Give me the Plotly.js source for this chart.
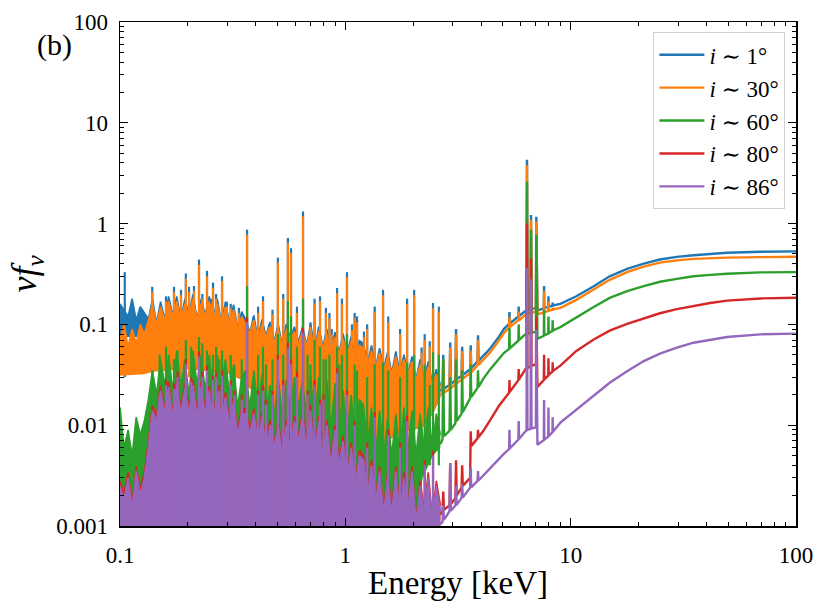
<!DOCTYPE html>
<html>
<head>
<meta charset="utf-8">
<script src="https://cdn.plot.ly/plotly-3.0.1.min.js"></script>
<style>html,body{margin:0;padding:0;background:#fff;}#chart{width:831px;height:616px;}</style>
</head>
<body>
<div id="chart"></div>
<script>
// ---------- dense line-forest band (0.1 - 2.64 keV) ----------
const energyForest = [0.1000,0.1042,0.1086,0.1132,0.1180,0.1230,0.1282,0.1337,0.1393,0.1452,
0.1514,0.1578,0.1644,0.1714,0.1786,0.1862,0.1941,0.2023,0.2109,0.2198,
0.2291,0.2388,0.2489,0.2594,0.2704,0.2818,0.2938,0.3062,0.3192,0.3327,
0.3467,0.3614,0.3767,0.3926,0.4093,0.4266,0.4446,0.4634,0.4831,0.5035,
0.5248,0.5470,0.5702,0.5943,0.6194,0.6457,0.6730,0.7015,0.7311,0.7621,
0.7943,0.8279,0.8630,0.8995,0.9376,0.9772,1.0186,1.0617,1.1066,1.1535,
1.2023,1.2531,1.3062,1.3614,1.4191,1.4791,1.5417,1.6069,1.6749,1.7458,
1.8197,1.8967,1.9770,2.0606,2.1478,2.2387,2.3335,2.4322,2.5351,2.6424];

const bandI1 = [0.160,0.140,0.120,0.180,0.110,0.150,0.130,
0.113,0.179,0.103,0.168,0.113,0.19,0.124,0.19,0.113,0.179,0.124,0.2,0.113,0.179,0.124,0.19,0.113,0.179,0.103,0.168,0.103,0.157,0.093,0.134,
0.112,0.082,0.123,0.072,0.112,0.077,0.106,0.067,0.101,0.062,0.101,0.072,0.095,0.067,
0.095,0.062,0.101,0.057,0.095,0.06,0.09,0.054,0.084,0.052,0.081,0.052,0.076,0.046,0.069,
0.065,0.041,0.062,0.037,0.058,0.036,0.054,0.033,0.054,0.033,0.05,0.033,0.048,0.029,0.045,0.028,0.043,0.026,0.036,0.025];

const bandI30 = [0.070,0.100,0.060,0.090,0.065,0.100,0.080,
0.11,0.16,0.10,0.15,0.11,0.17,0.12,0.17,0.11,0.16,0.12,0.18,0.11,0.16,0.12,0.17,0.11,0.16,0.10,0.15,0.10,0.14,0.09,0.12,
0.10,0.08,0.11,0.07,0.10,0.075,0.095,0.065,0.09,0.06,0.09,0.07,0.085,0.065,
0.085,0.06,0.09,0.055,0.085,0.058,0.08,0.052,0.075,0.05,0.072,0.05,0.068,0.045,0.062,
0.058,0.04,0.055,0.036,0.052,0.035,0.048,0.032,0.048,0.032,0.045,0.032,0.043,0.028,0.04,0.027,0.038,0.025,0.032,0.024];

const bandI60 = [0.015,0.006,0.009,0.005,0.012,0.008,0.011,
0.018,0.035,0.02,0.045,0.025,0.05,0.022,0.055,0.025,0.045,0.02,0.055,0.025,0.05,0.022,0.05,0.02,0.05,0.025,0.045,0.02,0.04,0.015,0.03,
0.035,0.015,0.035,0.015,0.032,0.014,0.025,0.012,0.03,0.012,0.028,0.015,0.03,0.015,
0.028,0.012,0.032,0.01,0.03,0.01,0.028,0.009,0.026,0.008,0.022,0.008,0.02,0.007,0.018,
0.016,0.006,0.015,0.005,0.014,0.005,0.012,0.005,0.013,0.005,0.015,0.006,0.014,0.005,0.013,0.006,0.015,0.006,0.013,0.008];

const bandI80 = [0.0028,0.0021,0.0034,0.0017,0.0039,0.0023,0.0034,
0.0068,0.0157,0.0123,0.0246,0.0146,0.0269,0.0134,0.028,0.0146,0.0258,0.0146,0.028,0.0134,0.0269,0.0146,0.0246,0.0123,0.0235,0.0123,0.0213,0.0112,0.019,0.009,0.0146,
0.0146,0.009,0.0146,0.0078,0.0134,0.0067,0.0112,0.0067,0.0112,0.0056,0.0112,0.0067,0.0123,0.0078,
0.0134,0.0067,0.0146,0.0056,0.0123,0.0056,0.0112,0.0045,0.01,0.0045,0.0078,0.0034,0.0067,0.0028,0.0056,
0.005,0.0022,0.0045,0.0019,0.0039,0.0015,0.0034,0.0015,0.0039,0.0015,0.0034,0.0017,0.0039,0.0012,0.0028,0.0015,0.0034,0.0012,0.0028,0.0016];

const bandI86 = [0.0025,0.0018,0.0030,0.0015,0.0035,0.0020,0.0030,
0.006,0.014,0.011,0.022,0.013,0.024,0.012,0.025,0.013,0.023,0.013,0.025,0.012,0.024,0.013,0.022,0.011,0.021,0.011,0.019,0.01,0.017,0.008,0.013,
0.013,0.008,0.013,0.007,0.012,0.006,0.01,0.006,0.01,0.005,0.01,0.006,0.011,0.007,
0.012,0.006,0.013,0.005,0.011,0.005,0.01,0.004,0.009,0.004,0.007,0.003,0.006,0.0025,0.005,
0.0045,0.002,0.004,0.0017,0.0035,0.0013,0.003,0.0013,0.0035,0.0013,0.003,0.0015,0.0035,0.0011,0.0025,0.0013,0.003,0.0011,0.0025,0.0014];

// lower edges of the dense bands
const floorE_I1 = [0.1,0.128,0.134,0.2,0.3,0.35,0.4,0.45,0.5,0.6,0.8,1.0,1.2,1.45,1.8,2.2,2.45,2.6424];
const floorI1   = [0.075,0.075,0.036,0.036,0.033,0.028,0.02,0.012,0.008,0.009,0.0085,0.0065,0.0055,0.0065,0.0085,0.0095,0.013,0.019];
const floorE_I30 = [0.1,0.128,0.14,0.2,0.3,0.35,0.4,0.45,0.5,0.6,0.8,1.0,1.2,1.45,1.8,2.2,2.45,2.6424];
const floorI30   = [0.031,0.032,0.034,0.036,0.033,0.028,0.02,0.012,0.008,0.009,0.0085,0.0065,0.0055,0.0065,0.0085,0.0095,0.013,0.019];
const floorE_I60 = [0.1,2.0,2.2,2.45,2.6424];
const floorI60   = [0.0003,0.0003,0.003,0.005,0.006];
const floorE_I80 = [0.1,2.6424];
const floorI80   = [0.0003,0.0003];
const floorE_I86 = [0.1,2.6424];
const floorI86   = [0.0003,0.0003];

// ---------- emission lines in the forest (null = not visible) ----------
const lineE = [0.105,0.139,0.150,0.160,0.1736,0.180,0.1865,0.196,0.2025,0.207,
0.213,0.2242,0.232,0.2433,0.253,0.2587,0.267,0.276,0.2837,0.298,
0.31,0.322,0.337,0.347,0.3663,0.39,0.41,0.4312,0.445,0.458,
0.475,0.502,0.53,0.556,0.574,0.61,0.649,0.68,0.70,0.73,
0.772,0.80,0.82,0.85,0.87,0.919,0.94,0.966,1.017,1.07,
1.10,1.127,1.21,1.25,1.35,1.47,1.55,1.75,1.88,2.02,
2.18,2.25,2.37,2.45,2.60];
const lineI1 = [0.33,0.236,null,0.19,0.236,null,0.22,0.32,0.236,null,
0.24,0.44,0.2,0.34,0.18,0.26,0.2,null,0.30,0.168,
0.16,null,0.146,null,0.87,0.118,0.15,0.19,null,0.10,
0.14,0.46,0.2,0.72,0.57,0.15,1.32,null,0.105,0.18,
0.19,null,0.146,0.13,0.09,0.23,null,0.18,0.33,0.10,
0.13,0.12,0.085,0.10,0.15,0.22,0.12,0.09,0.18,0.22,
0.059,0.08,0.068,0.163,0.15];
const lineI30 = [null,0.21,null,0.17,0.21,null,0.196,0.285,0.21,null,
0.215,0.39,0.18,0.30,0.16,0.23,0.18,null,0.27,0.15,
0.145,null,0.13,null,0.78,0.105,0.13,0.17,null,0.09,
0.125,0.41,0.18,0.64,0.51,0.13,1.18,null,0.094,0.16,
0.17,null,0.13,0.115,0.08,0.205,null,0.16,0.295,0.088,
0.115,0.105,0.075,0.09,0.133,0.195,0.105,0.08,0.16,0.195,
0.052,0.07,0.06,0.145,0.134];
const lineI60 = [null,0.035,0.05,0.06,0.045,0.055,null,0.07,null,0.06,
null,0.075,0.065,0.055,null,0.05,0.06,0.045,0.055,null,
0.05,0.04,null,0.045,0.24,null,0.05,0.06,0.04,null,
0.045,0.08,0.05,0.17,0.12,0.06,0.18,0.05,0.04,0.07,
0.06,0.045,0.045,0.05,null,0.06,0.04,0.05,0.08,null,
0.04,0.035,null,0.03,0.04,0.042,0.035,0.03,0.042,0.05,
null,0.04,0.025,0.053,0.05];
const lineI80 = [null,0.0125,0.022,0.028,0.026,0.034,null,0.045,null,0.03,
null,0.054,0.034,0.039,null,0.031,0.034,0.025,0.035,null,
0.028,0.022,null,0.02,0.118,null,0.022,0.025,0.018,null,
0.022,0.05,0.028,0.066,0.045,0.034,0.092,0.022,0.016,0.028,
0.018,0.02,null,null,null,0.037,null,null,0.022,null,
0.011,null,null,0.0067,0.0135,null,0.009,0.0067,0.0125,null,
null,0.0045,null,0.0056,null];
const lineI86 = [null,0.011,0.02,0.025,0.023,0.03,null,0.04,null,0.027,
null,0.048,0.03,0.035,null,0.028,0.03,0.022,0.031,null,
0.025,0.02,null,0.018,0.105,null,0.02,0.022,0.016,null,
0.02,0.045,0.025,0.059,0.04,0.03,0.082,0.02,0.014,0.025,
0.016,0.018,null,null,null,0.033,null,null,0.02,null,
0.01,null,null,0.006,0.012,null,0.008,0.006,0.011,null,
null,0.004,null,0.005,null];
const lineBase = [0.03,0.03,0.004,0.0008,0.0008];

// ---------- continuum with lines (2.64 - 100 keV) ----------
const energyCont = [2.642,2.70,2.72,2.74,2.90,2.92,2.94,3.08,3.10,3.12,
3.28,3.30,3.32,3.58,3.60,3.62,3.86,3.88,3.90,4.10,
4.40,4.80,5.05,5.33,5.35,5.37,5.86,5.88,5.90,6.30,
6.37,6.40,6.43,6.64,6.67,6.70,7.01,7.04,7.08,7.12,
7.60,7.62,7.64,7.95,7.97,7.99,8.30,8.32,8.34,9.0,
10.6,12.6,14.9,17.8,21.1,24.9,29.6,35.1,41.6,49.4,
69.5,100];

const contI1 = [0.022,0.0225,0.05,0.023,0.025,0.066,0.0255,0.028,0.09,0.0285,
0.031,0.06,0.0315,0.036,0.062,0.0365,0.043,0.078,0.0435,0.049,
0.058,0.075,0.09,0.101,0.133,0.102,0.12,0.15,0.121,0.136,
0.138,4.3,0.139,0.141,1.22,0.142,0.145,1.17,0.146,0.138,
0.144,0.24,0.145,0.149,0.19,0.15,0.153,0.165,0.154,0.16,
0.19,0.238,0.30,0.355,0.401,0.44,0.468,0.486,0.502,0.513,
0.525,0.53];

const contI30 = [0.020,0.0205,0.045,0.021,0.0228,0.059,0.0232,0.0255,0.08,0.026,
0.0283,0.054,0.0288,0.033,0.055,0.0333,0.0393,0.07,0.0397,0.045,
0.053,0.069,0.082,0.093,0.119,0.094,0.11,0.134,0.11,0.125,
0.127,3.8,0.128,0.13,1.09,0.131,0.133,1.05,0.134,0.126,
0.131,0.214,0.132,0.136,0.17,0.137,0.14,0.147,0.141,0.146,
0.175,0.221,0.277,0.330,0.375,0.410,0.432,0.447,0.455,0.46,
0.465,0.469];

const contI60 = [0.0065,0.0072,0.045,0.0078,0.0088,0.03,0.009,0.0105,0.045,0.011,
0.013,0.035,0.0135,0.0185,0.04,0.019,0.0235,0.035,0.024,0.029,
0.036,0.046,0.052,0.057,0.092,0.058,0.069,0.1,0.07,0.08,
0.081,2.6,0.081,0.082,0.87,0.083,0.084,0.78,0.085,0.072,
0.077,0.14,0.078,0.081,0.12,0.082,0.086,0.11,0.087,0.094,
0.118,0.148,0.183,0.214,0.24,0.265,0.283,0.3,0.31,0.318,
0.328,0.33];

const contI80 = [0.0013,0.0014,0.0022,0.00145,0.0016,0.0042,0.00165,0.0019,0.0045,0.002,
0.0024,0.004,0.0025,0.003,0.0087,0.0062,0.0074,0.009,0.0076,0.0088,
0.0113,0.0155,0.018,0.021,0.028,0.0215,0.028,0.036,0.0285,0.036,
0.037,1.0,0.037,0.038,0.45,0.039,0.04,0.12,0.041,0.024,
0.028,0.05,0.0285,0.031,0.046,0.0315,0.034,0.042,0.0345,0.039,
0.0545,0.0705,0.0867,0.101,0.115,0.129,0.142,0.153,0.163,0.172,
0.181,0.184];

const contI86 = [0.00104,0.0011,0.0016,0.00115,0.0014,0.0042,0.00142,0.0016,0.0025,0.00162,
0.0019,0.0026,0.00192,0.0024,0.0038,0.00242,0.0028,0.0035,0.00283,0.0032,
0.0038,0.0046,0.0052,0.0058,0.009,0.0059,0.0072,0.011,0.0073,0.0087,
0.0089,0.36,0.009,0.0092,0.28,0.0093,0.0095,0.088,0.0096,0.0064,
0.0071,0.0178,0.0072,0.0077,0.015,0.0078,0.0085,0.012,0.0086,0.0106,
0.0142,0.0195,0.0264,0.0343,0.0433,0.0512,0.0587,0.0658,0.0705,0.075,
0.0797,0.081];

const seriesNames = ['<i>i</i> ∼ 1°','<i>i</i> ∼ 30°','<i>i</i> ∼ 60°','<i>i</i> ∼ 80°','<i>i</i> ∼ 86°'];
const seriesColors = ['#1f77b4','#ff7f0e','#2ca02c','#d62728','#9467bd'];

const xTickVals = [0.1,1,10,100];
const xTickText = ['0.1','1','10','100'];
const yTickVals = [0.001,0.01,0.1,1,10,100];
const yTickText = ['0.001','0.01','0.1','1','10','100'];

const floorSets = [[floorE_I1,floorI1],[floorE_I30,floorI30],[floorE_I60,floorI60],[floorE_I80,floorI80],[floorE_I86,floorI86]];
const bandSets = [bandI1,bandI30,bandI60,bandI80,bandI86];
const lineSets = [lineI1,lineI30,lineI60,lineI80,lineI86];
const contSets = [contI1,contI30,contI60,contI80,contI86];

const FONT = 'Liberation Serif, DejaVu Serif, serif';
const traces = [];
for (let i = 0; i < 5; i++) {
  traces.push({x: floorSets[i][0], y: floorSets[i][1], type: 'scatter', mode: 'lines',
    line: {width: 0, color: seriesColors[i]}, showlegend: false, hoverinfo: 'skip'});
  traces.push({x: energyForest, y: bandSets[i], type: 'scatter', mode: 'lines',
    line: {width: 1.6, color: seriesColors[i]}, fill: 'tonexty', fillcolor: seriesColors[i],
    showlegend: false, hoverinfo: 'skip'});
  const sx = [], sy = [];
  lineE.forEach(function(e, j){
    const h = lineSets[i][j];
    if (h !== null) { sx.push(e, e, null); sy.push(lineBase[i], h, null); }
  });
  traces.push({x: sx, y: sy, type: 'scatter', mode: 'lines',
    line: {width: 2.2, color: seriesColors[i]}, showlegend: false, hoverinfo: 'skip'});
}
for (let i = 0; i < 5; i++) {
  traces.push({x: energyCont, y: contSets[i], type: 'scatter', mode: 'lines',
    line: {width: 2.4, color: seriesColors[i]}, name: seriesNames[i], showlegend: true});
}

const axisCommon = {
  type: 'log', showgrid: false, zeroline: false,
  showline: true, linecolor: 'black', linewidth: 1.5, mirror: 'allticks',
  ticks: 'inside', ticklen: 8, tickwidth: 1.2, tickcolor: 'black',
  tickmode: 'array',
  tickfont: {family: FONT, size: 23, color: 'black'},
  minor: {ticks: 'inside', ticklen: 4, tickwidth: 1, tickcolor: 'black', dtick: 'D1', showgrid: false}
};

const layout = {
  width: 831, height: 616,
  margin: {l: 120, r: 35, t: 22, b: 90},
  paper_bgcolor: 'white', plot_bgcolor: 'white',
  font: {family: FONT, color: 'black'},
  xaxis: Object.assign({}, axisCommon, {
    range: [-1, 2], tickvals: xTickVals, ticktext: xTickText, ticklabelstandoff: 8,
    title: {text: 'Energy [keV]', font: {family: FONT, size: 33, color: 'black'}, standoff: 4}
  }),
  yaxis: Object.assign({}, axisCommon, {
    range: [-3, 2], tickvals: yTickVals, ticktext: yTickText, ticklabelstandoff: 6,
    title: {text: '<i>νf</i><sub><i>ν</i></sub>', font: {family: FONT, size: 36, color: 'black'}, standoff: 8}
  }),
  legend: {x: 0.984, y: 0.98, xanchor: 'right', yanchor: 'top',
    bgcolor: 'white', bordercolor: '#d0d0d0', borderwidth: 1.2, itemwidth: 45,
    font: {family: FONT, size: 23, color: 'black'}, traceorder: 'normal'},
  annotations: [{text: '(b)', xref: 'paper', yref: 'paper', x: -0.097, y: 0.955,
    xanchor: 'center', yanchor: 'middle', showarrow: false,
    font: {family: FONT, size: 30, color: 'black'}}]
};

Plotly.newPlot('chart', traces, layout, {displayModeBar: false, staticPlot: true});
</script>
</body>
</html>
